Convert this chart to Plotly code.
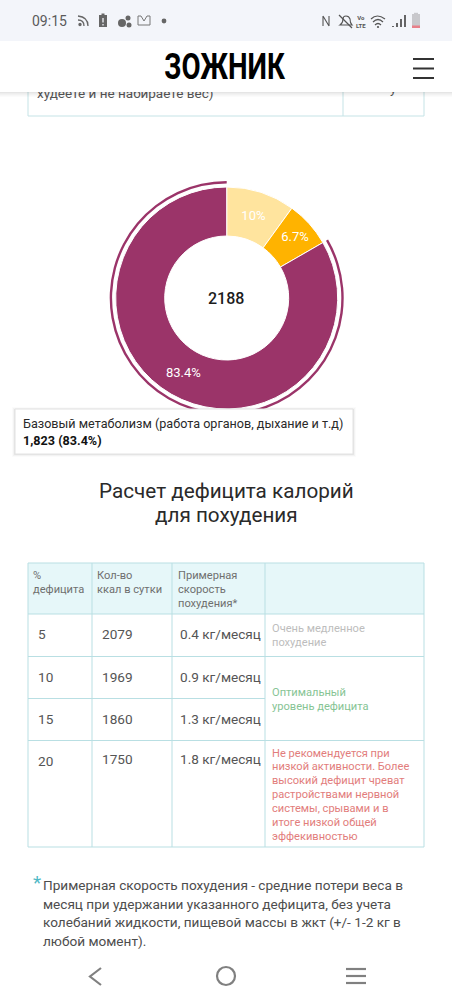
import plotly.graph_objects as go

# ---- data ----
slice_labels = ["Активность", "Пищеварение", "Базовый метаболизм"]
slice_shares = [10, 6.7, 83.4]
slice_colors = ["#ffe49e", "#ffb300", "#9b3469"]
total_kcal = "2188"
tooltip_lines = ["Базовый метаболизм (работа органов, дыхание и т.д)", "1,823 (83.4%)"]
page_title = "ЗОЖНИК"
heading_lines = ["Расчет дефицита калорий", "для похудения"]
clock = "09:15"
cut_lines = ["худеете и не набираете вес)", "у"]
col_heads = [["%", "дефицита"], ["Кол-во", "ккал в сутки"], ["Примерная", "скорость", "похудения*"]]
deficit_pct = ["5", "10", "15", "20"]
kcal_per_day = ["2079", "1969", "1860", "1750"]
loss_speed = ["0.4 кг/месяц", "0.9 кг/месяц", "1.3 кг/месяц", "1.8 кг/месяц"]
note_slow = ["Очень медленное", "похудение"]
note_good = ["Оптимальный", "уровень дефицита"]
note_bad = ["Не рекомендуется при", "низкой активности. Более", "высокий дефицит чреват",
            "растройствами нервной", "системы, срывами и в", "итоге низкой общей", "эффекивностью"]
footnote = ["Примерная скорость похудения - средние потери веса в",
            "месяц при удержании указанного дефицита, без учета",
            "колебаний жидкости, пищевой массы в жкт (+/- 1-2 кг в",
            "любой момент)."]

W, H = 452, 1000
FONT = "Roboto"
LINE = "#b9dfe3"
shapes, notes = [], []


def rect(x0, y0, x1, y1, fill, line=None, lw=0, layer="above"):
    shapes.append(dict(type="rect", xref="x", yref="y", x0=x0, y0=y0, x1=x1, y1=y1, fillcolor=fill,
                       line=dict(color=line or "rgba(0,0,0,0)", width=lw), layer=layer))


def seg(x0, y0, x1, y1, color=LINE, lw=1):
    shapes.append(dict(type="line", xref="x", yref="y", x0=x0, y0=y0, x1=x1, y1=y1,
                       line=dict(color=color, width=lw), layer="above"))


def path(d, fill="rgba(0,0,0,0)", color="#555", lw=1.2):
    shapes.append(dict(type="path", xref="x", yref="y", path=d, fillcolor=fill,
                       line=dict(color=color, width=lw), layer="above"))


def circ(cx, cy, r, fill="rgba(0,0,0,0)", color="#555", lw=0):
    shapes.append(dict(type="circle", xref="x", yref="y", x0=cx - r, y0=cy - r, x1=cx + r, y1=cy + r,
                       fillcolor=fill, line=dict(color=color, width=lw), layer="above"))


def txt(x, y, s, size=13, color="#444", anchor="left", weight=400, family=FONT):
    notes.append(dict(xref="x", yref="y", x=x, y=y, text=s, showarrow=False, xanchor=anchor, yanchor="middle",
                      borderpad=0, borderwidth=0,
                      font=dict(size=size, color=color, family=family, weight=weight)))


def stack(x, y0, step, lines, **kw):
    for i, s in enumerate(lines):
        txt(x, y0 + i * step, s, **kw)


# ---- cut-off table above the header ----
rect(28, 80, 424, 116, "rgba(0,0,0,0)", "#c5e3e6", 1)
seg(343, 80, 343, 116, "#c5e3e6")

# ---- tooltip ----
for i, a in enumerate([0.015, 0.03, 0.05]):
    rect(14 - 2 + i, 408 - 1 + i, 354 + 2 - i, 455 + 2 - i, f"rgba(0,0,0,{a})")
rect(15, 409, 353, 454, "white", "#e2e2e2", 1)
txt(22.5, 423, tooltip_lines[0], size=12.6, color="#2a2a2a")
txt(22.5, 440, tooltip_lines[1], size=12.6, color="#111", weight=700)

# ---- centre of the donut ----
txt(226.2, 298, total_kcal, size=16, color="#1c1c1c", anchor="center", weight=500)

# ---- heading ----
txt(226, 491, heading_lines[0], size=20.7, color="#2a2a2a", anchor="center")
txt(226, 515, heading_lines[1], size=20.7, color="#2a2a2a", anchor="center")

# ---- calorie table ----
xs = [28, 92, 172, 265, 424]
ys = [563, 614, 656.5, 698.5, 740.5, 847]
rect(xs[0], ys[0], xs[4], ys[1], "#e6f7f9")
for x in xs:
    seg(x, ys[0], x, ys[5])
for y in (ys[0], ys[1], ys[2], ys[4], ys[5]):
    seg(xs[0], y, xs[4], y)
seg(xs[0], ys[3], xs[3], ys[3])

for x, lines in zip((33, 97, 178), col_heads):
    stack(x, 575, 14, lines, size=11.1, color="#6f6f6f")

row_y = [634, 676.5, 718.5, 761]
for i in range(4):
    txt(37.5, row_y[i], deficit_pct[i], size=13.6, color="#555")
    txt(102, row_y[i] - (2 if i == 3 else 0), kcal_per_day[i], size=13.6, color="#555")
    txt(180, row_y[i] - (2 if i == 3 else 0), loss_speed[i], size=13.6, color="#555")
stack(272, 628, 14, note_slow, size=11.1, color="#bdbdbd")
stack(272, 692, 14, note_good, size=11.1, color="#86c494")
stack(272, 753, 13.9, note_bad, size=11.1, color="#e27d7c")

# ---- footnote ----
txt(32.5, 882, "*", size=19, color="#4fb9c6")
stack(42.5, 885, 18.5, footnote, size=13.6, color="#4d4d4d")

# ---- header bars ----
for i, a in enumerate([0.10, 0.07, 0.05, 0.03, 0.015]):
    rect(0, 92 + i, W, 93 + i, f"rgba(0,0,0,{a})")
rect(0, 41, W, 92, "white")
rect(0, 0, W, 41, "#f3f5fa")
txt(225, 66, page_title, size=37, color="#000", anchor="center", weight=700)
for y in (59, 68.5, 78):
    seg(413, y, 434, y, "#333", 2)

# ---- status bar ----
txt(32, 21, clock, size=14, color="#5a5a5a")
path("M78,16 Q88,17 88,26 M78,20 Q84,20 84,26", color="#666", lw=1.3)
circ(80, 24.5, 1.7, "#666")
rect(99, 15, 107, 27, "#666")
rect(101.5, 13.5, 104.5, 15, "#666")
seg(103, 18, 103, 22.5, "#f3f5fa", 1.3)
seg(103, 24, 103, 25.5, "#f3f5fa", 1.3)
circ(122, 23, 4, "#666")
circ(128, 18, 2.5, "#666")
circ(129, 25, 2.5, "#666")
path("M138,25 L138,16 L141,16 L144,21 L147,16 L150,16 L150,25 Z", lw=1, color="#777")
circ(164, 21, 2.4, "#666")
path("M323,16 L323,26 M329,16 L329,26 M323,16 L329,26", lw=1.1)
path("M340,25 Q343,23 343,19 Q343,16 346,16 Q349,16 350,19 Q350,23 352,25 Z", lw=1.1)
seg(339, 15, 352, 28, "#555", 1.2)
txt(361, 21, "Vo<br>LTE", size=6, color="#555", anchor="center", weight=700)
path("M371,19 Q377,13 385,19 M373,22 Q378,17 383,22 M375,25 Q378,22 381,25", lw=1.2)
circ(378, 27, 1.1, "#555")
for x, top in zip((393, 397, 401, 405), (26, 23, 19, 15)):
    seg(x, top, x, 27, "#555", 1.8)
rect(412, 14, 420, 28, "#c8c8cc")
rect(414, 12.8, 418, 14, "#c8c8cc")
rect(412, 25.5, 420, 28, "#e8808a")

# ---- bottom navigation ----
rect(0, 958, W, H, "white")
path("M101,968 L90,976.5 L101,985", color="#808080", lw=2.2)
circ(226, 976, 9, color="#808080", lw=2.2)
for y in (969, 976, 983):
    seg(346, y, 366, y, "#808080", 2.2)

fig = go.Figure()
# clipped page text: drawn as a trace so that the header bar covers it
fig.add_trace(go.Scatter(x=[37, 390], y=[95, 90], mode="text", text=cut_lines, textposition="middle right",
                         textfont=dict(family=FONT, size=13.5, color="#555"), hoverinfo="skip", showlegend=False,
                         cliponaxis=False))

cx, cy, r_pie, r_ring = 226.7, 298, 111, 117
def dom(r):
    return dict(x=[(cx - r) / W, (cx + r) / W], y=[1 - (cy + r) / H, 1 - (cy - r) / H])

fig.add_trace(go.Pie(labels=slice_labels, values=slice_shares, sort=False, direction="clockwise", rotation=0,
                     hole=62 / r_pie, domain=dom(r_pie), texttemplate="%{value}%", textposition="inside",
                     insidetextorientation="horizontal", textfont=dict(family=FONT, size=13, color="#fff"),
                     marker=dict(colors=slice_colors, line=dict(color="white", width=1)),
                     hoverinfo="skip", showlegend=False))
ring_colors = ["rgba(0,0,0,0)", "rgba(0,0,0,0)", slice_colors[2]]
fig.add_trace(go.Pie(labels=slice_labels, values=slice_shares, sort=False, direction="clockwise", rotation=0,
                     hole=114.6 / r_ring, domain=dom(r_ring), textinfo="none",
                     marker=dict(colors=ring_colors, line=dict(width=0)),
                     hoverinfo="skip", showlegend=False))

fig.update_layout(width=W, height=H, margin=dict(l=0, r=0, t=0, b=0), autosize=False,
                  paper_bgcolor="white", plot_bgcolor="white", showlegend=False,
                  xaxis=dict(range=[0, W], visible=False, fixedrange=True),
                  yaxis=dict(range=[H, 0], visible=False, fixedrange=True),
                  shapes=shapes, annotations=notes, font=dict(family=FONT))
narrow_title = """
document.body.style.margin='0';document.body.style.overflow='hidden';
document.querySelectorAll('.annotation-text').forEach(function(t){
  if(t.textContent==='%s'){t.style.transformBox='fill-box';t.style.transformOrigin='center';t.style.transform='scaleX(0.75)';}
});
""" % page_title
fig.write_html("out.html", config=dict(displayModeBar=False), post_script=narrow_title)
